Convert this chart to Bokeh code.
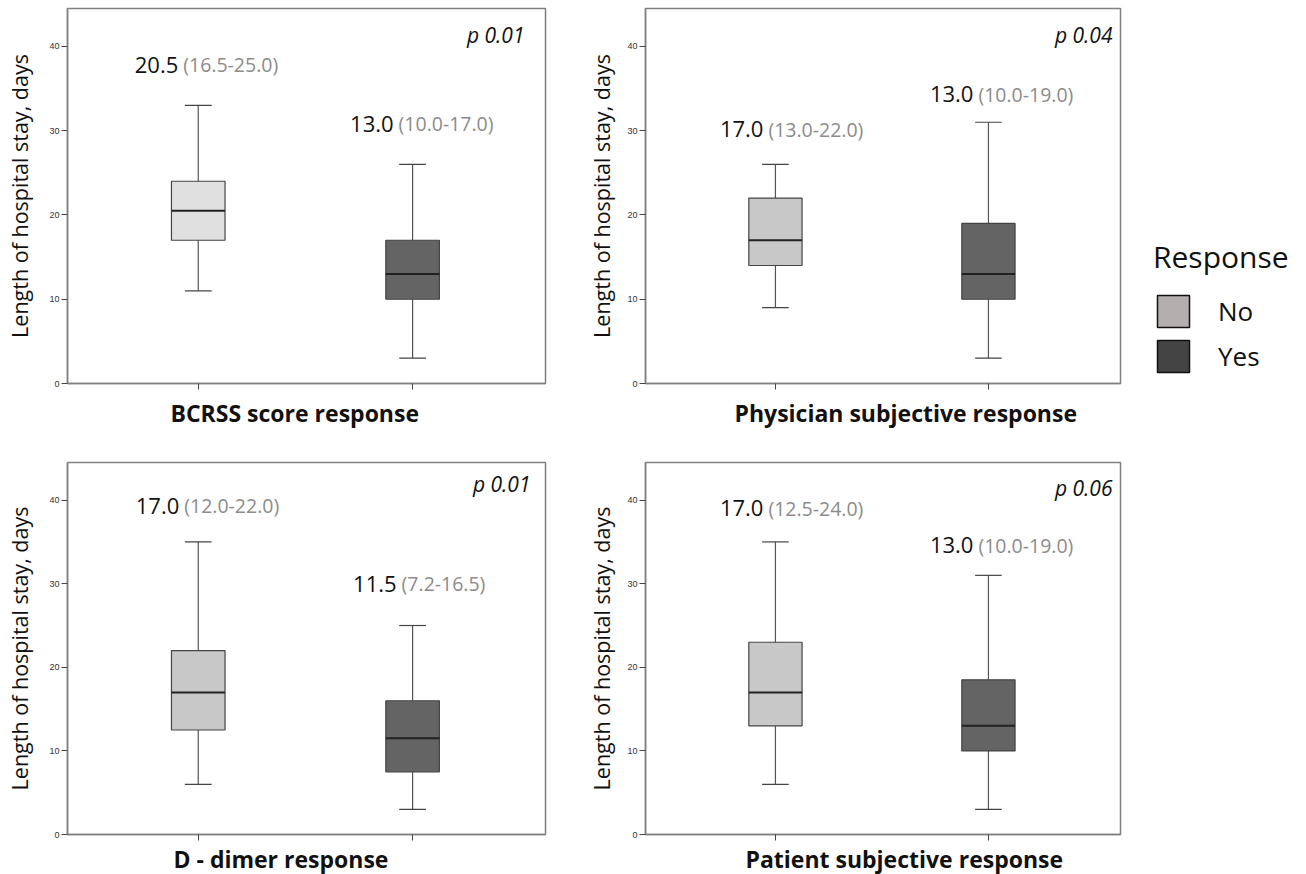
from bokeh.plotting import figure
from bokeh.layouts import row, column
from bokeh.models import Range1d, FixedTicker, ColumnDataSource, Legend, LegendItem, Title
from bokeh.core.properties import value
from bokeh.embed import file_html
from bokeh.resources import INLINE

# ---------------- data ----------------
panel_titles = ["BCRSS score response", "Physician subjective response",
                "D - dimer response", "Patient subjective response"]
groups = ["No", "Yes"]
whisker_low = [[11, 3], [9, 3], [6, 3], [6, 3]]
q1 = [[17, 10], [14, 10], [12.5, 7.5], [13, 10]]
median = [[20.5, 13], [17, 13], [17, 11.5], [17, 13]]
q3 = [[24, 17], [22, 19], [22, 16], [23, 18.5]]
whisker_high = [[33, 26], [26, 31], [35, 25], [35, 31]]
median_labels = [["20.5", "13.0"], ["17.0", "13.0"], ["17.0", "11.5"], ["17.0", "13.0"]]
iqr_labels = [["(16.5-25.0)", "(10.0-17.0)"], ["(13.0-22.0)", "(10.0-19.0)"],
              ["(12.0-22.0)", "(7.2-16.5)"], ["(12.5-24.0)", "(10.0-19.0)"]]
p_values = ["p 0.01", "p 0.04", "p 0.01", "p 0.06"]
y_ticks = [0, 10, 20, 30, 40]
y_axis_title = "Length of hospital stay, days"
legend_title = "Response"

# ---------------- layout / style ----------------
FONT = "Open Sans"
X0, X1 = -0.61, 1.62
Y0, Y1 = 0, 44.5
label_y = [[37.8, 30.8], [30.2, 34.3], [39.3, 30.0], [39.0, 34.6]]
label_split = [[-20, -19], [-12, -15], [-19, -16], [-12, -15]]
p_y = [41.3, 41.3, 41.9, 41.4]
p_off = [-21, -8, -15, -8]
title_start = [103, 89, 106, 100]        # px from the frame's left edge
title_standoff = [10, 10, 0, 0]
ylabel_standoff = [12, 8, 12, 8]
no_fill = ["#e0e0e0", "#c8c8c8", "#c8c8c8", "#c8c8c8"]
yes_fill = "#646464"
BOX_W = 0.25
CAP_W = 0.125


def make_panel(i, width, height, bl, br, bt, bb):
    p = figure(width=width, height=height, output_backend="svg", toolbar_location=None,
               x_range=Range1d(X0, X1), y_range=Range1d(Y0, Y1),
               min_border_left=bl, min_border_right=br, min_border_top=bt,
               min_border_bottom=bb)
    p.grid.visible = False
    p.outline_line_color = "#808080"
    p.outline_line_width = 1.5
    xs = [0, 1]
    fills = [no_fill[i], yes_fill]
    src = ColumnDataSource(dict(
        x=xs, lo=whisker_low[i], q1=q1[i], med=median[i], q3=q3[i], hi=whisker_high[i],
        left=[x - BOX_W / 2 for x in xs], right=[x + BOX_W / 2 for x in xs],
        cl=[x - CAP_W / 2 for x in xs], cr=[x + CAP_W / 2 for x in xs],
        fill=fills, ml=median_labels[i], il=iqr_labels[i], ly=label_y[i],
        off=label_split[i], off2=[o + 5 for o in label_split[i]]))
    # whiskers
    p.segment(x0="x", y0="q3", x1="x", y1="hi", source=src, line_color="#555555", line_width=1.2)
    p.segment(x0="x", y0="lo", x1="x", y1="q1", source=src, line_color="#555555", line_width=1.2)
    p.segment(x0="cl", y0="hi", x1="cr", y1="hi", source=src, line_color="#444444", line_width=1.2)
    p.segment(x0="cl", y0="lo", x1="cr", y1="lo", source=src, line_color="#444444", line_width=1.2)
    # boxes
    p.quad(left="left", right="right", bottom="q1", top="q3", source=src,
           fill_color="fill", line_color="#444444", line_width=1.2)
    p.segment(x0="left", y0="med", x1="right", y1="med", source=src,
              line_color="#222222", line_width=2)
    # annotations
    p.text(x="x", y="ly", text="ml", source=src, x_offset="off", text_align="right",
           text_baseline="middle", text_font=value(FONT), text_font_size="22px",
           text_color="#111111")
    p.text(x="x", y="ly", text="il", source=src, x_offset="off2", text_align="left",
           text_baseline="middle", text_font=value(FONT), text_font_size="19.5px",
           text_color="#8c8c8c")
    p.text(x=[X1], y=[p_y[i]], text=[p_values[i]], x_offset=p_off[i], text_align="right",
           text_baseline="middle", text_font=value(FONT), text_font_size="21px",
           text_font_style="italic", text_color="#111111")
    # axes
    ya = p.yaxis[0]
    ya.ticker = FixedTicker(ticks=y_ticks)
    ya.minor_tick_line_color = None
    ya.major_tick_in = 0
    ya.major_tick_out = 6
    ya.major_tick_line_color = "#444444"
    ya.axis_line_color = "#808080"
    ya.axis_line_width = 1.5
    ya.major_label_text_font = "Liberation Sans"
    ya.major_label_text_font_size = "9px"
    ya.major_label_text_color = "#333333"
    ya.major_label_standoff = 2
    ya.axis_label = y_axis_title
    ya.axis_label_text_font = FONT
    ya.axis_label_text_font_size = "21.5px"
    ya.axis_label_text_font_style = "normal"
    ya.axis_label_text_color = "#111111"
    ya.axis_label_standoff = ylabel_standoff[i]
    xa = p.xaxis[0]
    xa.ticker = FixedTicker(ticks=[0, 1])
    xa.major_label_overrides = {0: "", 1: ""}
    xa.major_label_text_font_size = "0px"
    xa.major_label_standoff = 0
    xa.minor_tick_line_color = None
    xa.major_tick_in = 0
    xa.major_tick_out = 6
    xa.major_tick_line_color = "#444444"
    xa.axis_line_color = "#808080"
    xa.axis_line_width = 1.5
    # x title below the axis, placed like the original
    p.add_layout(Title(text=panel_titles[i], align="left", offset=title_start[i],
                       standoff=title_standoff[i], text_font=FONT, text_font_size="23px",
                       text_font_style="bold", text_color="#111111"), "below")
    return p


p1 = make_panel(0, 584, 455, 67, 39, 8, 72)
p2 = make_panel(1, 556, 455, 56, 20, 8, 72)
p3 = make_panel(2, 584, 419, 67, 39, 7, 38)
p4 = make_panel(3, 556, 419, 56, 20, 7, 38)

# legend panel
lg = figure(width=166, height=874, output_backend="svg", toolbar_location=None,
            x_range=Range1d(0, 1), y_range=Range1d(0, 1), min_border=0)
lg.axis.visible = False
lg.grid.visible = False
lg.outline_line_color = None
r_no = lg.quad(left=[2], right=[3], bottom=[2], top=[3], fill_color="#b3afaf",
               line_color="#111111", line_width=1.5)
r_yes = lg.quad(left=[2], right=[3], bottom=[2], top=[3], fill_color="#444444",
                line_color="#111111", line_width=1.5)
leg = Legend(items=[LegendItem(label=groups[0], renderers=[r_no]),
                    LegendItem(label=groups[1], renderers=[r_yes])],
             location=(13, 498), title=legend_title,
             title_text_font=FONT, title_text_font_size="30px", title_text_font_style="normal",
             title_text_color="#111111", title_standoff=14,
             label_text_font=FONT, label_text_font_size="26px", label_text_color="#111111",
             glyph_width=40, glyph_height=40, label_height=40, label_standoff=25,
             spacing=5, padding=0, margin=0,
             border_line_color=None, background_fill_alpha=0)
lg.add_layout(leg, "center")

layout = row(column(row(p1, p2, spacing=0), row(p3, p4, spacing=0), spacing=0), lg, spacing=0)
open("out.html", "w").write(file_html(layout, INLINE))
